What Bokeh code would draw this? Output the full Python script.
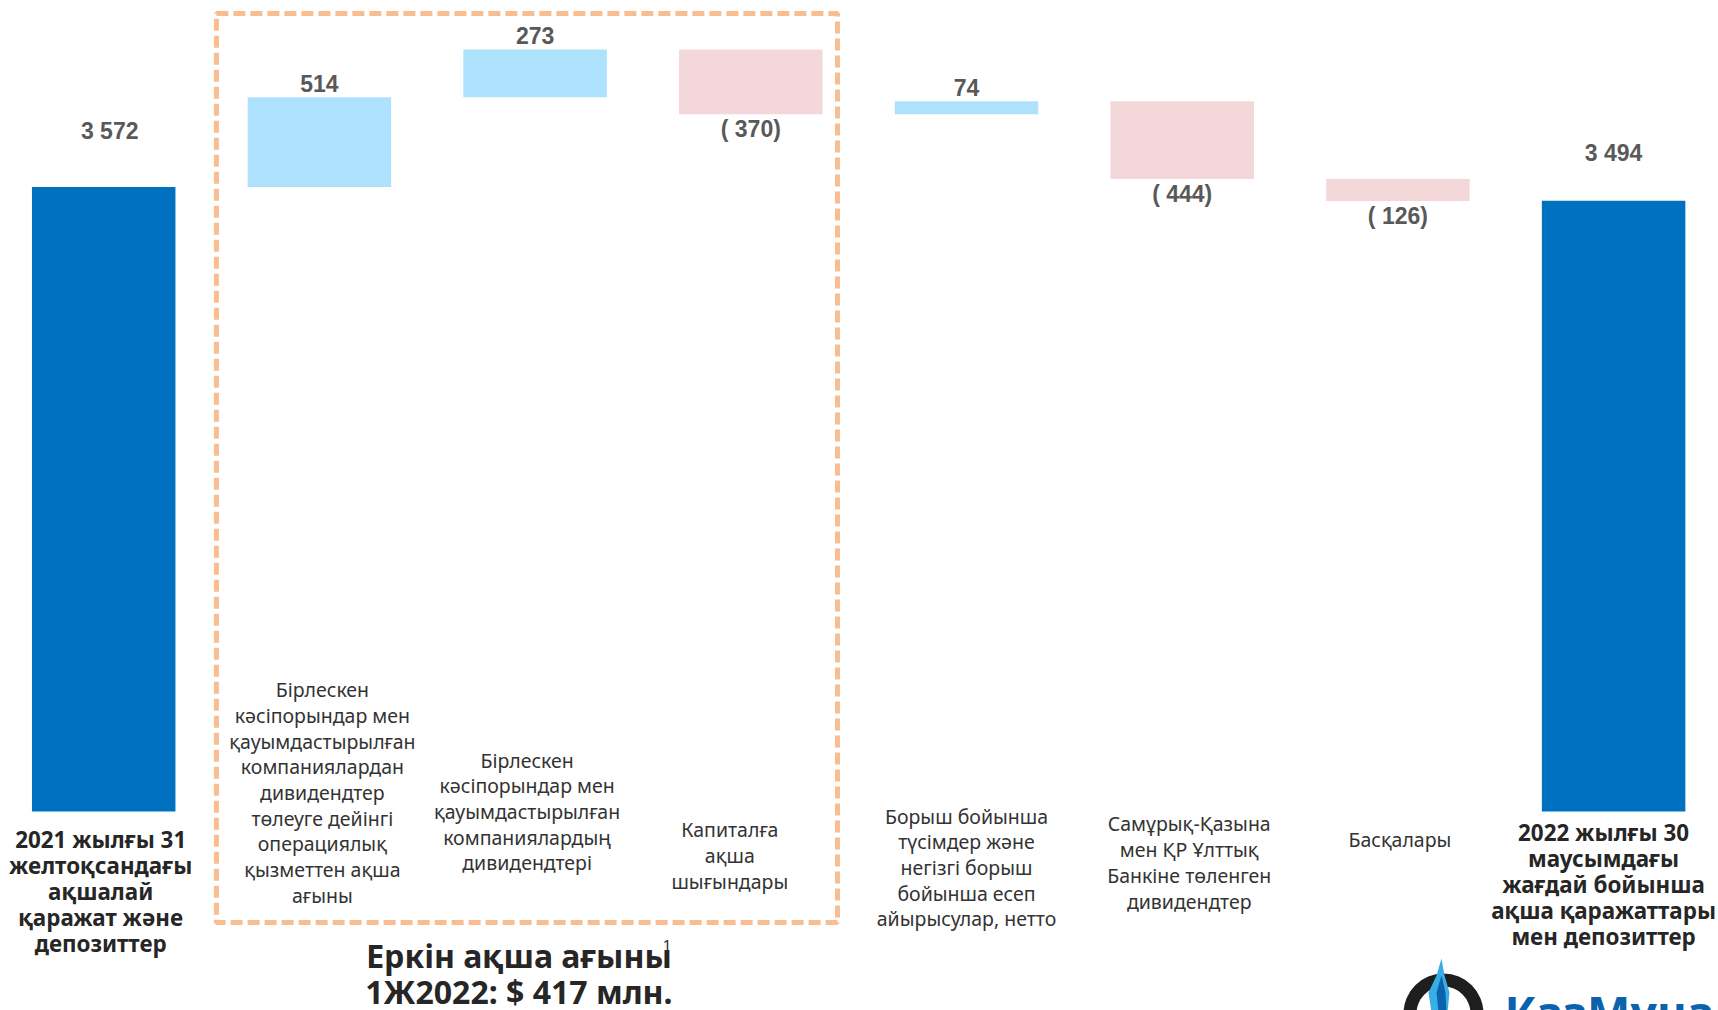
from bokeh.plotting import figure
from bokeh.models import Range1d, ColumnDataSource
from bokeh.embed import file_html
from bokeh.resources import INLINE
from bokeh.core.properties import value

# ---------------- data ----------------
categories = [
    "2021 жылғы 31\nжелтоқсандағы\nақшалай\nқаражат және\nдепозиттер",
    "Бірлескен\nкәсіпорындар мен\nқауымдастырылған\nкомпаниялардан\nдивидендтер\nтөлеуге дейінгі\nоперациялық\nқызметтен ақша\nағыны",
    "Бірлескен\nкәсіпорындар мен\nқауымдастырылған\nкомпаниялардың\nдивидендтері",
    "Капиталға\nақша\nшығындары",
    "Борыш бойынша\nтүсімдер және\nнегізгі борыш\nбойынша есеп\nайырысулар, нетто",
    "Самұрық-Қазына\nмен ҚР Ұлттық\nБанкіне төленген\nдивидендтер",
    "Басқалары",
    "2022 жылғы 30\nмаусымдағы\nжағдай бойынша\nақша қаражаттары\nмен депозиттер",
]
values = [3572, 514, 273, -370, 74, -444, -126, 3494]
kinds = ["total", "delta", "delta", "delta", "delta", "delta", "delta", "total"]
value_labels = ["3 572", "514", "273", "( 370)", "74", "( 444)", "( 126)", "3 494"]
box_members = [1, 2, 3]
fcf_title = "Еркін ақша ағыны"
fcf_value = "1Ж2022: $ 417 млн."
fcf_note = "1"
logo_text = "КазМұнайГаз"

# ---------------- layout (pixels of the 1718x1010 page) ----------------
W, H, MARGIN = 1718, 1010, 0
X0_REF = 103.2        # page x of first bar centre
PX_PER_X = 215.7      # page px between bar centres
BASE_REF = 811.0      # page y of zero line
PX_PER_Y = 0.1748     # page px per unit

# label placement tweaks (screen px)
lab_dx = [6, 0, 0, 0, 0, 0, 0, 0]
lab_dy = [-56, -14, -14, 15, -14, 15, 15, -48]
cat_dx = [-3, 3, -8, -21, 0, 7, 2, -10]
cat_dy = [80, -19, 0, 44, 56, 51, 28, 73]


def xd(px):
    return (px - X0_REF) / PX_PER_X


def yd(py):
    return (BASE_REF - py) / PX_PER_Y


x_start = xd(MARGIN)
x_end = x_start + W / PX_PER_X
y_end = yd(MARGIN)
y_start = y_end - H / PX_PER_Y

# ---------------- waterfall geometry ----------------
xs, bottoms, tops, colors, lab_y = [], [], [], [], []
running = 0
for i, (v, k) in enumerate(zip(values, kinds)):
    xs.append(i)
    if k == "total":
        b, t = 0, v
        running = v
        colors.append("#0070C0")
    else:
        b, t = running, running + v
        running += v
        colors.append("#AEE2FC" if v >= 0 else "#F4D7D9")
    lab_y.append(t)
    bottoms.append(min(b, t))
    tops.append(max(b, t))

src = ColumnDataSource(dict(x=xs, bottom=bottoms, top=tops, color=colors,
                            ly=lab_y, ldx=lab_dx, ldy=lab_dy, lab=value_labels))

p = figure(width=W, height=H, output_backend="svg", toolbar_location=None,
           x_range=Range1d(x_start, x_end), y_range=Range1d(y_start, y_end),
           x_axis_location=None, y_axis_location=None, min_border=0,
           outline_line_color=None, background_fill_color="white")
p.xgrid.visible = False
p.ygrid.visible = False

p.vbar(x="x", bottom="bottom", top="top", width=143.5 / PX_PER_X,
       fill_color="color", line_color=None, source=src)

p.text(x="x", y="ly", text="lab", x_offset="ldx", y_offset="ldy", source=src,
       text_align="center", text_baseline="middle",
       text_font=value("Liberation Sans"), text_font_style="bold",
       text_font_size="23px", text_color="#595959")

# category labels
reg = [i for i, k in enumerate(kinds) if k != "total"]
tot = [i for i, k in enumerate(kinds) if k == "total"]
p.text(x=reg, y=[0] * len(reg), text=[categories[i] for i in reg],
       x_offset=[cat_dx[i] for i in reg], y_offset=[cat_dy[i] for i in reg],
       text_align="center", text_baseline="middle", text_line_height=0.953,
       text_font=value("Noto Sans"), text_font_size="19.5px", text_color="#333333")
p.text(x=tot, y=[0] * len(tot), text=[categories[i] for i in tot],
       x_offset=[cat_dx[i] for i in tot], y_offset=[cat_dy[i] for i in tot],
       text_align="center", text_baseline="middle", text_line_height=0.835,
       text_font=value("Noto Sans"), text_font_style="bold",
       text_font_size="22.4px", text_color="#262626")

# dashed free-cash-flow box
bl = min(box_members) - 103 / PX_PER_X
br = max(box_members) + 86.7 / PX_PER_X
p.quad(left=[bl], right=[br], top=[yd(13)], bottom=[yd(922)],
       fill_color=None, line_color="#F8BE92", line_width=5, line_dash="12 5")

bc = (bl + br) / 2
p.text(x=[bc, bc], y=[0, 0], text=[fcf_title, fcf_value],
       x_offset=[-8, -8], y_offset=[144, 180],
       text_align="center", text_baseline="middle",
       text_font=value("Noto Sans"), text_font_style="bold",
       text_font_size="32px", text_color="#262626")
p.text(x=[bc], y=[0], text=[fcf_note], x_offset=[140], y_offset=[133],
       text_align="center", text_baseline="middle",
       text_font=value("Noto Sans"), text_font_size="15px", text_color="#262626")

# logo (partly cut off at the bottom edge, as in the source slide)
p.annulus(x=[xd(1443)], y=[yd(1013)], inner_radius=27, outer_radius=40,
          inner_radius_units="screen", outer_radius_units="screen",
          fill_color="#1E1E1E", line_color=None)
flame = [(1441, 958), (1436, 975), (1428, 992), (1431, 1012), (1447, 1012),
         (1449, 992), (1444, 975)]
p.patch(x=[xd(a) for a, b in flame], y=[yd(b) for a, b in flame],
        fill_color="#39AEE6", line_color=None)
flame2 = [(1441, 975), (1436, 992), (1438, 1012), (1446, 1012), (1445, 992)]
p.patch(x=[xd(a) for a, b in flame2], y=[yd(b) for a, b in flame2],
        fill_color="#0B63AE", line_color=None)
p.text(x=[xd(1504)], y=[yd(980)], text=[logo_text],
       text_align="left", text_baseline="top",
       text_font=value("Noto Sans"), text_font_style="bold",
       text_font_size="46px", text_color="#0B63AE")

open("out.html", "w").write(file_html(p, INLINE))
